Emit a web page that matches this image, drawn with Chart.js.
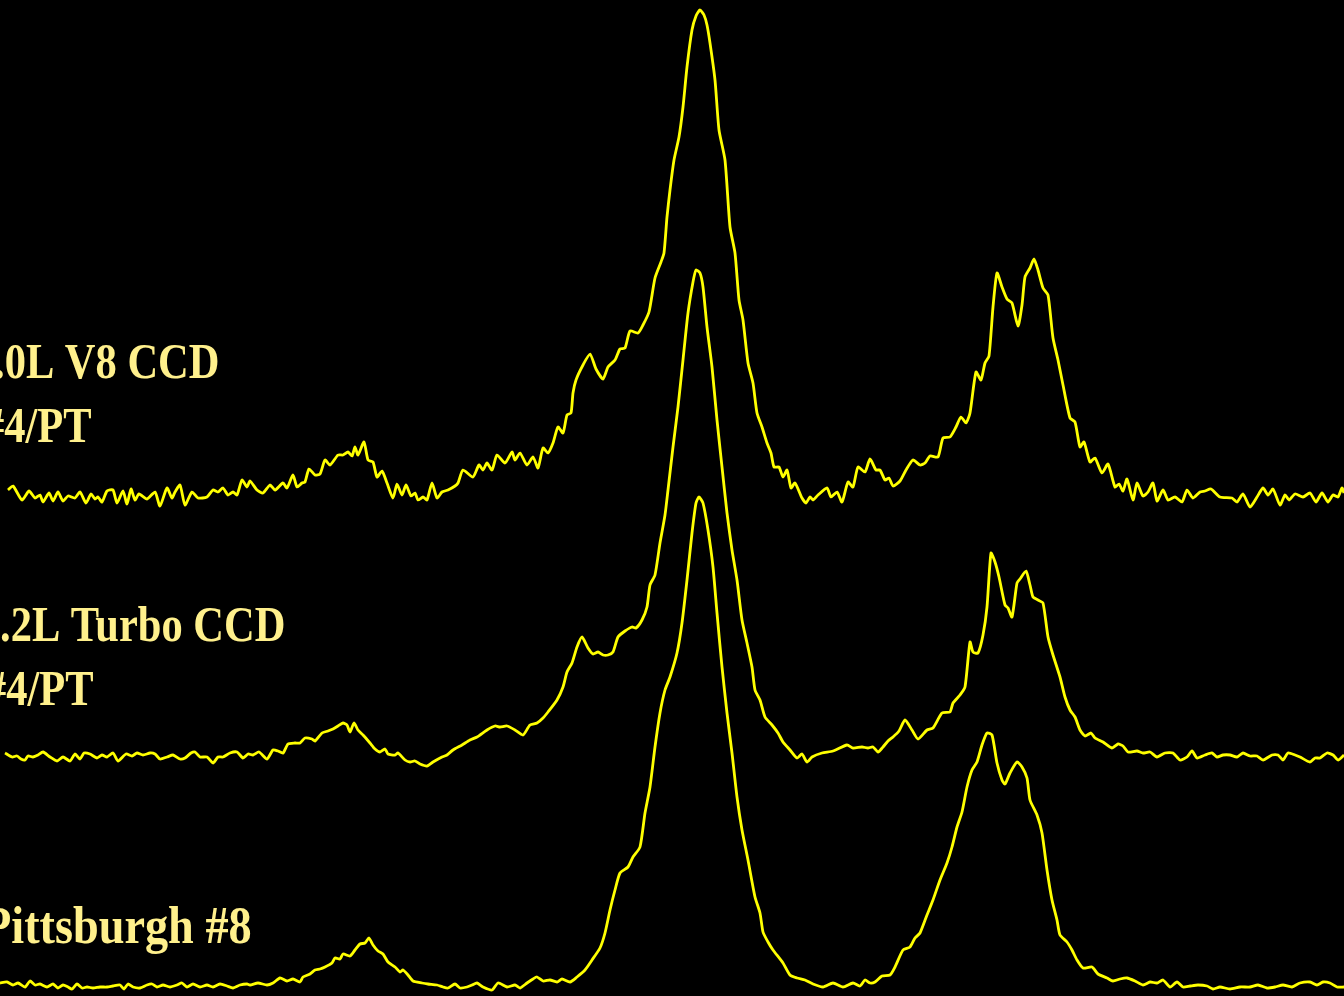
<!DOCTYPE html>
<html>
<head>
<meta charset="utf-8">
<script src="https://cdn.jsdelivr.net/npm/chart.js@4/dist/chart.umd.min.js"></script>
<style>
  html, body { margin: 0; padding: 0; background: #000; }
  #wrap { width: 1344px; height: 996px; position: relative; }
</style>
</head>
<body>
<div id="wrap"><canvas id="c"></canvas></div>
<script>
// ---- Data (channel positions and stacked intensity counts) ----
const channelTop = [8,13,22,29,35,40,43,49,53,58,63,68,75,80,86,91,95,98,102,107,113,117,123,127,131,135,139,147,155,160,167,172,175,180,185,192,198,207,213,218,223,228,233,237,242,247,250,257,263,270,275,283,287,293,297,302,305,309,315,320,325,330,338,343,348,352,355,358,364,368,373,377,382,387,393,397,402,406,411,415,418,423,427,432,437,442,448,455,458,463,473,479,483,487,492,497,505,512,515,520,527,533,538,543,548,553,558,563,567,571,573,576,583,590,596,603,608,615,620,625,630,638,643,649,655,661,664,667,670,674,679,683,687,692,696,700,704,707,710,715,719,725,730,735,739,743,748,753,757,762,767,771,774,779,783,787,791,795,802,806,810,813,818,827,831,837,842,848,853,858,865,870,876,880,885,889,893,900,906,913,920,925,930,938,943,950,956,961,966,970,976,981,985,989,993,997,1002,1007,1012,1018,1022,1025,1030,1034,1038,1043,1048,1053,1058,1063,1070,1075,1080,1084,1090,1095,1102,1108,1115,1119,1123,1127,1133,1137,1143,1148,1153,1157,1163,1168,1175,1182,1187,1193,1200,1205,1211,1220,1232,1237,1243,1250,1257,1263,1268,1273,1280,1285,1289,1295,1303,1310,1316,1322,1328,1333,1338,1342,1344];
const countsTop = [506,510,496,505,498,501,494,503,495,504,495,500,498,504,493,502,497,499,494,505,506,493,505,492,507,496,502,497,504,490,508,498,504,511,491,504,498,499,506,504,508,501,504,501,516,509,515,506,503,511,506,513,508,521,509,513,514,527,521,522,536,531,541,541,544,540,549,541,554,536,534,519,525,513,498,512,501,511,500,503,496,499,496,513,498,504,506,510,513,526,519,531,526,533,526,541,533,544,536,543,531,539,528,548,543,553,569,563,581,583,603,616,631,642,627,617,629,636,647,648,665,663,671,684,718,734,743,779,806,836,859,889,929,966,980,986,981,971,953,916,866,836,769,743,696,676,633,613,583,569,553,543,529,529,519,526,508,513,498,493,499,496,501,508,499,504,494,514,509,529,524,537,526,526,516,518,510,515,526,536,531,533,540,539,558,559,569,579,573,583,624,616,633,640,689,723,709,697,693,670,691,719,728,737,726,708,701,658,636,611,578,574,549,554,534,538,523,532,509,512,505,517,496,513,500,504,513,495,506,496,499,494,506,498,504,505,507,499,498,494,502,489,499,508,501,507,491,501,496,502,499,503,494,503,494,501,499,508,503];

const channelMid = [5,12,17,21,25,28,33,38,43,50,57,63,70,75,80,84,90,97,102,107,113,118,126,132,137,143,150,155,160,167,173,180,185,191,195,200,207,213,218,223,230,237,243,248,253,259,267,273,278,283,288,295,300,305,312,315,322,328,333,338,343,347,350,354,358,363,370,375,380,385,388,395,398,405,410,415,420,427,433,442,447,453,462,470,477,487,495,500,507,515,523,530,537,543,548,557,563,567,572,577,582,588,593,598,603,608,613,618,625,632,636,642,647,650,655,660,665,668,673,678,683,688,693,696,700,703,707,712,717,722,727,732,737,742,747,752,755,760,765,772,778,783,790,797,802,807,812,822,833,847,853,862,868,873,878,883,888,893,899,905,912,918,927,933,942,950,953,960,965,970,973,978,983,987,991,995,999,1005,1008,1012,1017,1020,1026,1030,1033,1038,1043,1048,1053,1060,1065,1070,1075,1080,1085,1091,1095,1103,1112,1118,1123,1128,1137,1143,1150,1157,1165,1173,1180,1187,1192,1197,1205,1212,1217,1223,1230,1237,1243,1250,1257,1263,1272,1278,1283,1288,1295,1300,1310,1315,1320,1327,1333,1338,1344];
const countsMid = [243,239,240,237,236,240,239,241,244,239,235,239,235,242,237,243,242,238,241,239,243,235,242,240,243,241,243,242,237,239,241,237,238,243,244,239,239,233,239,239,243,244,238,242,241,244,237,246,245,243,252,253,253,258,257,255,263,265,267,270,273,271,264,273,266,261,253,247,244,247,242,241,243,236,234,235,232,230,234,239,241,246,251,256,259,266,270,269,270,266,261,271,273,278,284,296,309,324,333,349,359,348,342,344,341,341,344,359,365,369,368,376,389,411,421,453,481,506,549,589,636,683,714,726,723,709,669,629,576,529,483,446,416,376,353,329,306,296,279,271,263,254,246,238,242,234,239,243,245,251,248,249,248,249,244,249,255,259,265,276,266,257,266,268,283,284,293,301,309,354,344,343,361,389,443,434,419,391,388,379,413,417,425,411,399,396,393,359,341,319,299,286,279,266,260,263,258,254,248,252,250,244,245,243,244,239,243,243,236,239,245,238,241,243,239,241,241,239,243,240,240,236,241,241,236,243,241,239,234,238,238,243,241,236,241];

const channelBot = [0,7,13,18,25,30,35,40,47,53,58,63,68,72,77,82,87,93,100,107,113,120,124,128,133,140,147,152,157,163,170,177,182,187,193,200,207,213,220,227,233,240,247,250,258,267,273,280,287,293,300,303,310,315,320,325,332,335,340,343,350,355,360,365,369,373,378,383,388,395,400,403,408,413,422,428,437,443,448,455,460,467,472,477,483,492,498,507,515,520,527,533,537,543,550,557,562,570,577,585,592,600,605,610,615,620,628,633,640,645,650,655,660,665,670,677,682,687,692,696,699,703,708,713,717,722,727,732,737,742,748,755,760,763,768,773,783,790,797,805,813,823,833,843,853,860,865,870,875,882,890,895,903,910,915,920,927,933,940,947,952,957,962,967,972,977,982,987,992,997,1002,1005,1010,1017,1022,1027,1030,1037,1042,1047,1052,1057,1060,1067,1072,1077,1083,1092,1098,1107,1113,1120,1127,1135,1143,1150,1157,1163,1170,1177,1183,1190,1198,1207,1213,1220,1230,1240,1250,1258,1267,1275,1283,1292,1300,1310,1317,1323,1330,1337,1344];
const countsBot = [13,14,11,13,9,15,11,12,9,12,8,11,9,7,12,8,9,8,9,9,10,11,7,12,9,8,11,12,9,11,9,11,13,9,12,9,11,9,12,10,8,11,12,11,13,11,13,18,15,17,14,19,22,26,27,29,33,38,37,42,40,46,52,53,58,51,45,42,34,29,24,26,21,15,13,12,11,9,8,12,8,9,11,13,9,6,13,9,11,8,13,17,19,15,16,14,17,14,19,26,36,48,63,86,106,123,129,139,149,183,209,249,283,306,319,343,373,416,463,493,499,493,466,429,383,329,283,243,199,166,136,99,83,64,54,46,33,21,18,16,12,9,13,9,13,10,16,13,14,20,21,29,46,49,58,63,81,96,116,133,149,169,184,209,226,234,251,263,261,233,216,212,223,234,229,218,196,181,163,126,96,76,61,54,46,36,28,29,22,18,15,17,18,15,11,14,13,16,9,14,9,10,11,10,7,9,7,9,9,11,8,9,11,9,13,14,11,14,13,9,9];

const sampleLabels = [".0L V8 CCD", "#4/PT", ".2L Turbo CCD", "#4/PT", "Pittsburgh #8"];

// ---- Styling / layout (not data) ----
const LINE_COLOR = '#FFFF00';
const TEXT_COLOR = '#FFF08C';
const labelLayout = [
  { x: -6,  y: 378, size: 50, sx: 0.85 },
  { x: -17, y: 442, size: 50, sx: 0.85 },
  { x: 0,   y: 641, size: 50, sx: 0.85 },
  { x: -15, y: 705, size: 50, sx: 0.85 },
  { x: -17, y: 943, size: 52, sx: 0.89 }
];

function toPoints(xs, ys) { return xs.map((x, i) => ({ x: x, y: ys[i] })); }

const bgPlugin = {
  id: 'bg',
  beforeDraw(chart) {
    const ctx = chart.ctx;
    ctx.save();
    ctx.fillStyle = '#000';
    ctx.fillRect(0, 0, chart.width, chart.height);
    ctx.restore();
  }
};

const labelPlugin = {
  id: 'sampleLabels',
  afterDatasetsDraw(chart) {
    const ctx = chart.ctx;
    sampleLabels.forEach((txt, i) => {
      const L = labelLayout[i];
      ctx.save();
      ctx.translate(L.x, L.y);
      ctx.scale(L.sx, 1);
      ctx.font = 'bold ' + L.size + "px 'Liberation Serif', 'Times New Roman', serif";
      ctx.fillStyle = TEXT_COLOR;
      ctx.textBaseline = 'alphabetic';
      ctx.textAlign = 'left';
      ctx.fillText(txt, 0, 0);
      ctx.restore();
    });
  }
};

const ds = (xs, ys) => ({
  data: toPoints(xs, ys),
  borderColor: LINE_COLOR,
  borderWidth: 2.8,
  pointRadius: 0,
  tension: 0.2,
  fill: false
});

new Chart(document.getElementById('c'), {
  type: 'line',
  data: {
    datasets: [
      ds(channelTop, countsTop),
      ds(channelMid, countsMid),
      ds(channelBot, countsBot)
    ]
  },
  options: {
    responsive: true,
    maintainAspectRatio: false,
    animation: false,
    layout: { padding: 0 },
    plugins: { legend: { display: false }, tooltip: { enabled: false }, title: { display: false } },
    scales: {
      x: { type: 'linear', min: 0, max: 1344, display: false },
      y: { type: 'linear', min: 0, max: 996, display: false }
    }
  },
  plugins: [bgPlugin, labelPlugin]
});
</script>
</body>
</html>
